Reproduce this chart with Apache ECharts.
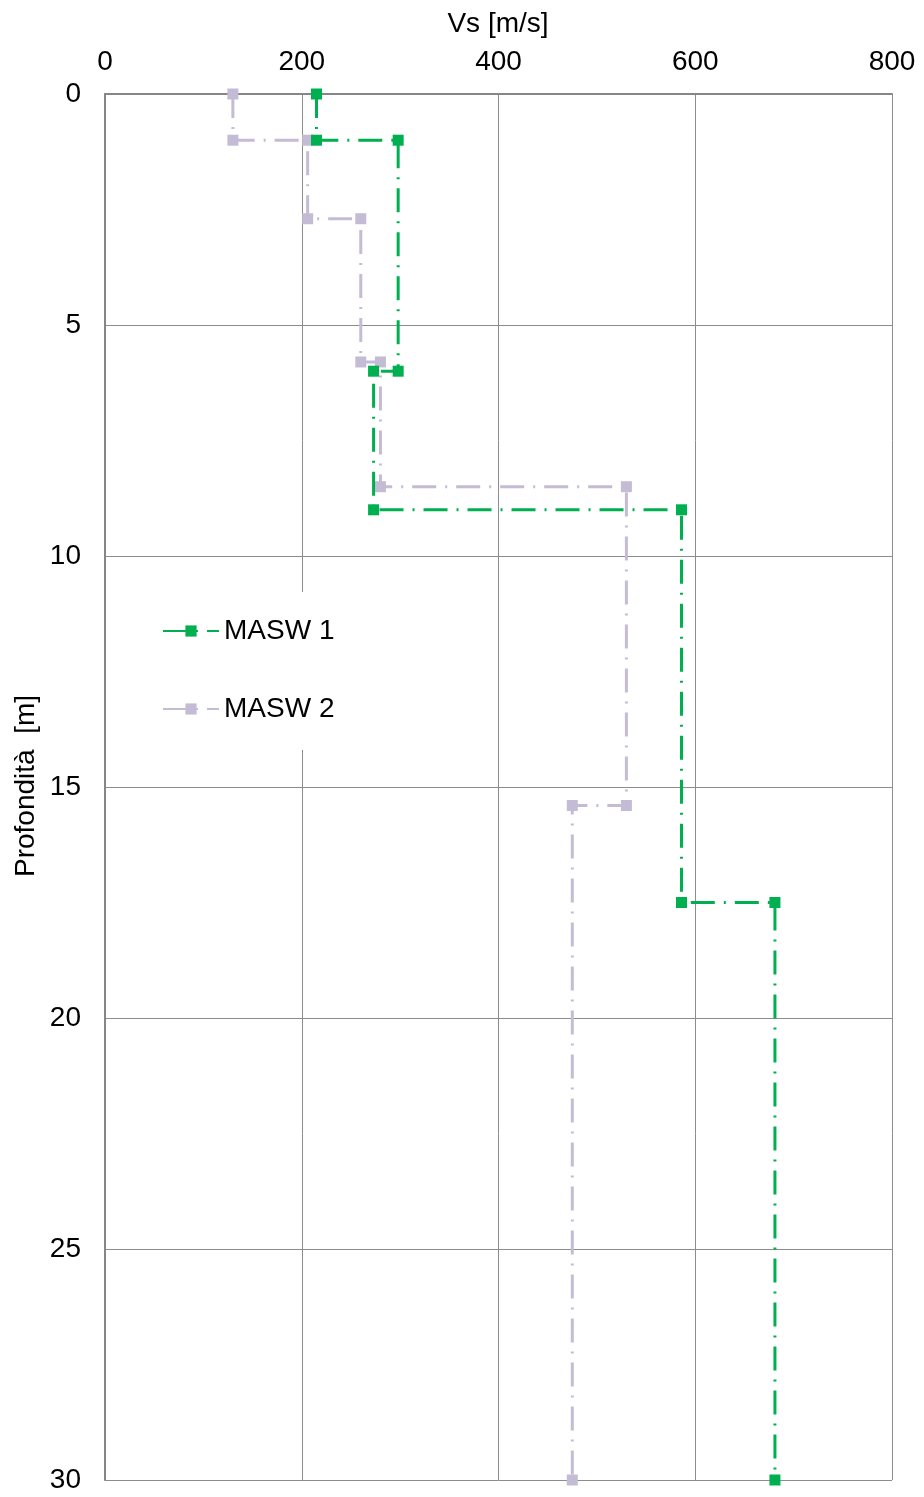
<!DOCTYPE html>
<html>
<head>
<meta charset="utf-8">
<title>Vs - Profondità</title>
<script src="https://cdn.jsdelivr.net/npm/echarts@6/dist/echarts.min.js"></script>
<style>
  html, body { margin: 0; padding: 0; background: #ffffff; }
  #chart { width: 924px; height: 1497px; }
</style>
</head>
<body>
<div id="chart"></div>
<script>
// Shear-wave velocity profiles: step profiles, each layer boundary given twice
const seriesNames = ['MASW 1', 'MASW 2'];

const masw1Vs    = [215, 215, 298, 298, 273, 273, 586, 586, 681, 681];
const masw1Depth = [0, 1.0, 1.0, 6.0, 6.0, 9.0, 9.0, 17.5, 17.5, 30];

const masw2Vs    = [130, 130, 206, 206, 260, 260, 280, 280, 530, 530, 475, 475];
const masw2Depth = [0, 1.0, 1.0, 2.7, 2.7, 5.8, 5.8, 8.5, 8.5, 15.4, 15.4, 30];

const vsTicks    = [0, 200, 400, 600, 800];
const depthTicks = [0, 5, 10, 15, 20, 25, 30];

const xName = 'Vs [m/s]';
const yName = 'Profondità  [m]';

const FONT = "'Liberation Sans', Arial, sans-serif";
const GREEN = '#00b050';
const LILAC = '#c3bcd4';
const DASH_DOT = [24, 9, 2, 9];

function pairs(xs, ys) {
  return xs.map((v, i) => [v, ys[i]]);
}

const chart = echarts.init(document.getElementById('chart'), null, { renderer: 'canvas' });

chart.setOption({
  animation: false,
  backgroundColor: '#ffffff',
  grid: {
    left: 105, right: 32, top: 94, bottom: 17,
    containLabel: false,
    outerBoundsMode: 'none'
  },
  // axis titles placed as free text above and left of the plot
  graphic: [
    {
      type: 'text',
      x: 498, y: 24,
      style: {
        text: xName, fill: '#000', font: '28px ' + FONT,
        align: 'center', verticalAlign: 'middle'
      }
    },
    {
      type: 'text',
      x: 26, y: 786,
      rotation: Math.PI / 2,
      style: {
        text: yName, fill: '#000', font: '28px ' + FONT,
        align: 'center', verticalAlign: 'middle'
      }
    }
  ],
  xAxis: {
    type: 'value',
    position: 'top',
    min: vsTicks[0],
    max: vsTicks[vsTicks.length - 1],
    interval: vsTicks[1] - vsTicks[0],
    axisLine: { show: true, lineStyle: { color: '#868686', width: 2 } },
    axisTick: { show: false },
    axisLabel: { fontSize: 28, color: '#000', fontFamily: FONT, margin: 18 },
    splitLine: { show: true, lineStyle: { color: '#8c8c8c', width: 1 } }
  },
  yAxis: {
    type: 'value',
    inverse: true,
    min: depthTicks[0],
    max: depthTicks[depthTicks.length - 1],
    interval: depthTicks[1] - depthTicks[0],
    axisLine: { show: true, lineStyle: { color: '#868686', width: 2 } },
    axisTick: { show: false },
    axisLabel: { fontSize: 28, color: '#000', fontFamily: FONT, margin: 24 },
    splitLine: { show: true, lineStyle: { color: '#8c8c8c', width: 1 } }
  },
  legend: {
    orient: 'vertical',
    left: 150,
    top: 592,
    padding: [25, 12, 27, 12],
    backgroundColor: '#ffffff',
    itemWidth: 56,
    itemHeight: 14,
    itemGap: 50,
    textStyle: { fontSize: 28, color: '#000', fontFamily: FONT },
    data: seriesNames
  },
  series: [
    {
      name: seriesNames[0],
      type: 'line',
      z: 3,
      data: pairs(masw1Vs, masw1Depth),
      symbol: 'rect',
      symbolSize: 11,
      itemStyle: { color: GREEN },
      lineStyle: { color: GREEN, width: 3, type: DASH_DOT }
    },
    {
      name: seriesNames[1],
      type: 'line',
      z: 2,
      data: pairs(masw2Vs, masw2Depth),
      symbol: 'rect',
      symbolSize: 11,
      itemStyle: { color: LILAC },
      lineStyle: { color: LILAC, width: 3, type: DASH_DOT }
    }
  ]
});
</script>
</body>
</html>
